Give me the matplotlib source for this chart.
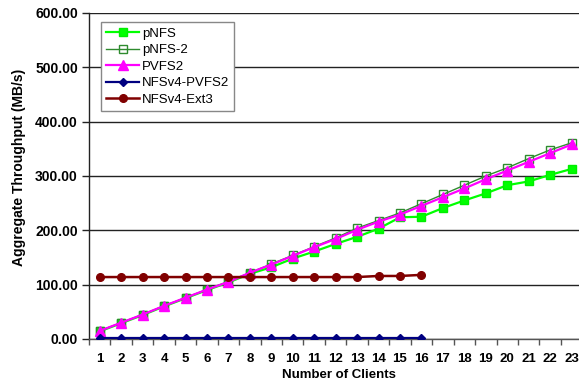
import matplotlib
matplotlib.use("Agg")
import matplotlib.pyplot as plt
import numpy as np

clients = list(range(1, 24))
pnfs = [14, 29, 44, 60, 75, 90, 104, 120, 132, 148, 161, 175, 188, 203, 224, 225,
        241, 255, 268, 283, 290, 302, 313]
pnfs2 = [15, 30, 45, 61, 76, 91, 106, 122, 138, 154, 170, 186, 204, 218, 232, 249,
         266, 283, 300, 315, 332, 348, 361]
pvfs2 = [15, 30, 45, 61, 76, 91, 105, 122, 137, 153, 169, 184, 201, 216, 229, 245,
         261, 277, 294, 310, 326, 342, 358]
clients16 = list(range(1, 17))
nfsv4_pvfs2 = [1.5] * 16
nfsv4_ext3 = [114, 114, 114, 114, 114, 114, 114, 114, 114, 114, 114, 114, 114,
              116, 116, 118]
yticks = [0, 100, 200, 300, 400, 500, 600]

plt.rcParams['font.family'] = ['Liberation Sans', 'DejaVu Sans']

fig = plt.figure(figsize=(5.79, 3.91), dpi=100)
ax = fig.add_axes([0.1537, 0.133, 0.852, 0.8338])

ax.plot(clients, pnfs, color='#00FF00', lw=1.6, marker='s', ms=6,
        mfc='#00FF00', mec='#00EE00', label='pNFS', zorder=3)
ax.plot(clients, pnfs2, color='#2E8B2E', lw=1.0, marker='s', ms=6,
        mfc='none', mec='#2E8B2E', mew=1.0, label='pNFS-2', zorder=4)
ax.plot(clients, pvfs2, color='#FF00FF', lw=1.6, marker='^', ms=7,
        mfc='#FF00FF', mec='#FF00FF', label='PVFS2', zorder=5)
ax.plot(clients16, nfsv4_pvfs2, color='#000080', lw=1.6, marker='D', ms=4.5,
        mfc='#000080', mec='#000080', label='NFSv4-PVFS2', zorder=6)
ax.plot(clients16, nfsv4_ext3, color='#800000', lw=1.8, marker='o', ms=5.5,
        mfc='#800000', mec='#800000', label='NFSv4-Ext3', zorder=6)

ax.set_xlim(0.5, 23.5)
ax.set_ylim(0, 600)
ax.set_yticks(yticks)
ax.set_yticklabels([f"{v:.2f}" for v in yticks], fontsize=10, fontweight='bold')
ax.set_xticks(clients)
ax.set_xticklabels([str(c) for c in clients], fontsize=9.5, fontweight='bold')
ax.set_xticks(np.arange(0.5, 23.6, 1.0), minor=True)
ax.tick_params(axis='x', which='major', length=0, pad=10)
ax.tick_params(axis='x', which='minor', length=4, width=1, color='#555555', direction='out')
ax.tick_params(axis='y', length=5, width=1, color='#222222', direction='out', pad=3)

ax.yaxis.grid(True, color='#222222', lw=1.0, zorder=0)
ax.set_axisbelow(True)
for s in ['top', 'right']:
    ax.spines[s].set_visible(False)
ax.spines['left'].set_color('#222222')
ax.spines['bottom'].set_color('#555555')
ax.spines['left'].set_linewidth(1)
ax.spines['bottom'].set_linewidth(1)

ax.set_xlabel('Number of Clients', fontsize=9.5, fontweight='bold')
ax.xaxis.set_label_coords(0.506, -0.093)
ax.set_ylabel('Aggregate Throughput (MB/s)', fontsize=10, fontweight='bold')
ax.yaxis.set_label_coords(-0.128, 0.526)

leg = ax.legend(loc='upper left', bbox_to_anchor=(0.0243, 0.972), fontsize=9.5,
                frameon=True, fancybox=False, edgecolor='#888888', framealpha=1,
                borderpad=0.4, labelspacing=0.33, handlelength=2.5, handletextpad=0.2,
                borderaxespad=0)
leg.get_frame().set_linewidth(1)

fig.savefig('out.png', dpi=100)
